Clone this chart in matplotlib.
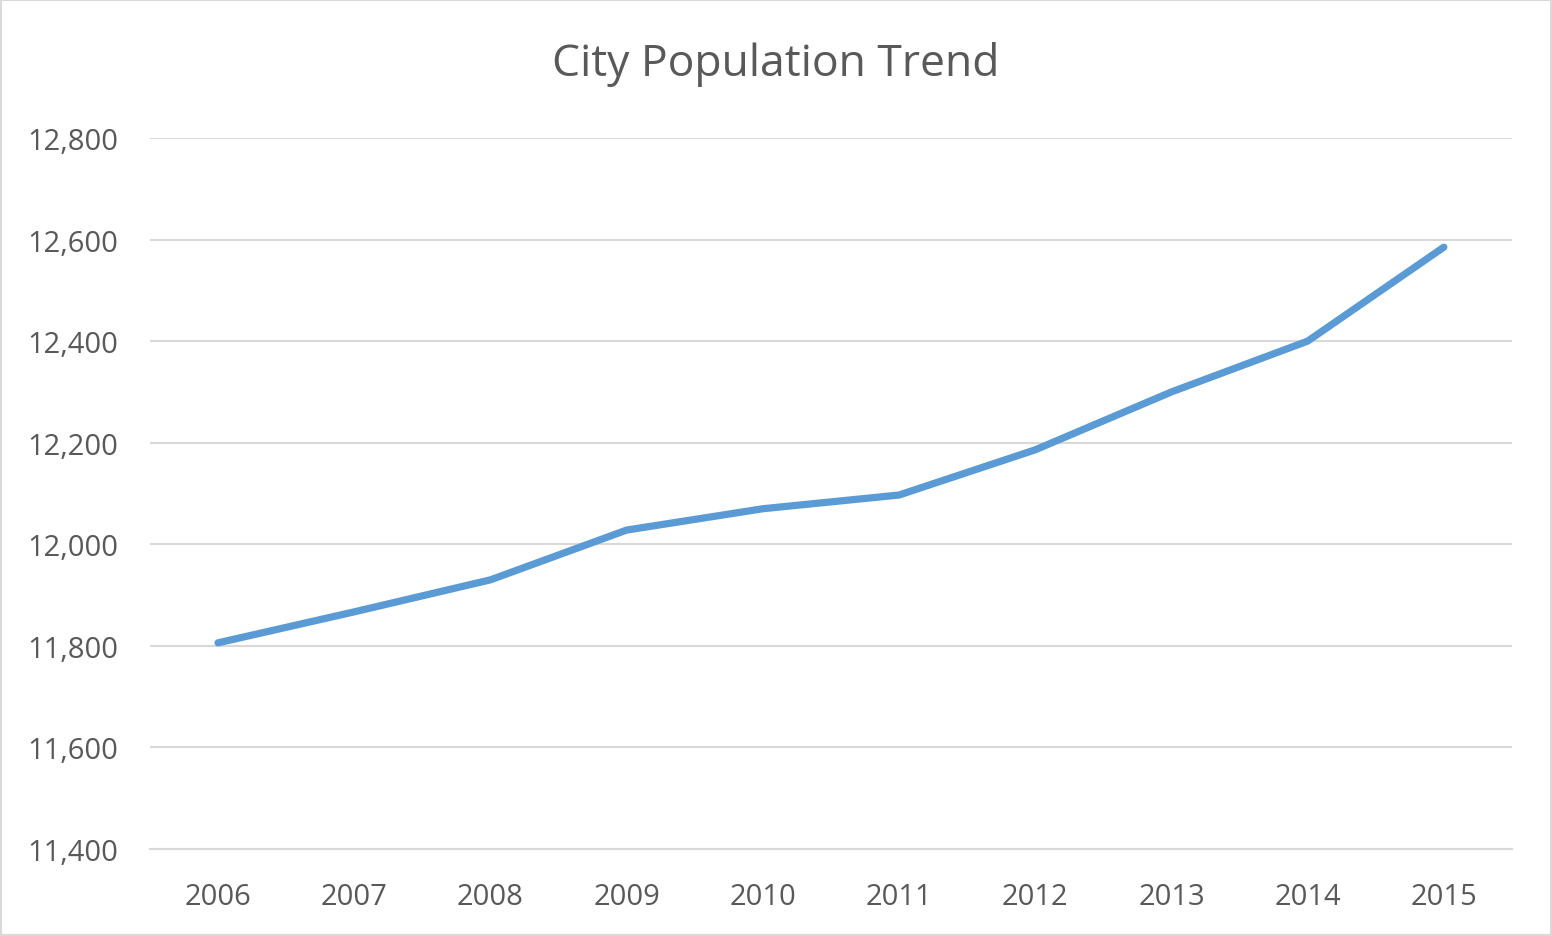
import matplotlib
matplotlib.use("Agg")
import matplotlib.pyplot as plt
from matplotlib.patches import Rectangle
from matplotlib.ticker import FuncFormatter

years = ["2006", "2007", "2008", "2009", "2010", "2011", "2012", "2013", "2014", "2015"]
population = [11806, 11867, 11930, 12028, 12070, 12097, 12186, 12300, 12400, 12585]
y_ticks = [11400, 11600, 11800, 12000, 12200, 12400, 12600, 12800]

text_color = "#595959"
line_color = "#5B9BD5"
grid_color = "#D9D9D9"

plt.rcParams['font.family'] = ['Open Sans', 'DejaVu Sans']

fig = plt.figure(figsize=(15.52, 9.37), dpi=100)
ax = fig.add_axes([0.0966, 0.0928, 0.9742 - 0.0966, 0.8517 - 0.0928])

x = list(range(len(years)))
ax.plot(x, population, color=line_color, linewidth=5.2,
        solid_capstyle='round', solid_joinstyle='round', zorder=3)

ax.set_xlim(-0.5, len(years) - 0.5)
ax.set_ylim(11400, 12800)
ax.set_yticks(y_ticks)
ax.yaxis.set_major_formatter(FuncFormatter(lambda v, p: "{:,.0f}".format(v)))
ax.set_xticks(x)
ax.set_xticklabels(years)

ax.yaxis.grid(True, color=grid_color, linewidth=1.5)
ax.set_axisbelow(True)
for s in ax.spines.values():
    s.set_visible(False)
ax.spines['bottom'].set_visible(True)
ax.spines['bottom'].set_color(grid_color)
ax.spines['bottom'].set_linewidth(1.5)

ax.tick_params(axis='both', length=0, labelsize=21, labelcolor=text_color)
ax.tick_params(axis='y', pad=23)
ax.tick_params(axis='x', pad=24)

fig.text(0.5, 0.931, "City Population Trend", ha='center', va='center',
         fontsize=32, color=text_color)

fig.patches.append(Rectangle((0.0006, 0.001), 0.9988, 0.998, transform=fig.transFigure,
                             fill=False, edgecolor=grid_color, linewidth=1.5))

fig.savefig("out.png", dpi=100, facecolor="white")
